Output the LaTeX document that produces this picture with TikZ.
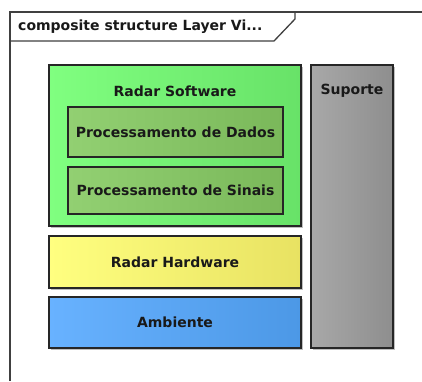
\documentclass[tikz,border=0pt]{standalone}
\usepackage{fontspec}
\setmainfont{DejaVu Sans}
\begin{document}
\begin{tikzpicture}[x=1pt,y=-1pt,
  box/.style={draw=black!85, line width=1.3pt, rectangle, inner sep=0pt},
  lbl/.style={font=\fontsize{14}{16}\selectfont\bfseries, text=black!90, inner sep=0pt},
  ttl/.style={font=\fontsize{14}{16}\selectfont\bfseries, text=black!90, inner sep=0pt, anchor=west}]
\useasboundingbox (0,0) rectangle (422,381);
\fill[white] (0,0) rectangle (422,381);
% frame
\draw[line width=1.6pt, black!75] (10,381) -- (10,12) -- (422,12);
\draw[line width=1.3pt, black!75] (10,41) -- (274,41) -- (295,19) -- (295,12);
\node[ttl] (title) at (18,27) {composite structure Layer Vi...};
% shadows
\foreach \cx/\cy/\w/\h in {175/145.5/252/161, 175/262/252/52, 175/322.5/252/51, 352/206.5/82/283}
  \fill[black!25] (\cx-\w/2+2,\cy-\h/2+2) rectangle (\cx+\w/2+2,\cy+\h/2+2);
% Radar Software
\node[box, minimum width=252pt, minimum height=161pt, left color={rgb,255:red,128;green,255;blue,128}, right color={rgb,255:red,104;green,226;blue,104}] (sw) at (175,145.5) {};
\node[lbl] (swl) at (175,91) {Radar Software};
\node[box, minimum width=215pt, minimum height=50pt, left color={rgb,255:red,146;green,208;blue,114}, right color={rgb,255:red,122;green,184;blue,90}] (dados) at (175.5,132) {};
\node[lbl] at (dados.center) {Processamento de Dados};
\node[box, minimum width=215pt, minimum height=47pt, left color={rgb,255:red,146;green,208;blue,114}, right color={rgb,255:red,122;green,184;blue,90}] (sinais) at (175.5,190.5) {};
\node[lbl] at (sinais.center) {Processamento de Sinais};
% Hardware
\node[box, minimum width=252pt, minimum height=52pt, left color={rgb,255:red,255;green,255;blue,128}, right color={rgb,255:red,232;green,226;blue,98}] (hw) at (175,262) {};
\node[lbl] at (hw.center) {Radar Hardware};
% Ambiente
\node[box, minimum width=252pt, minimum height=51pt, left color={rgb,255:red,104;green,178;blue,255}, right color={rgb,255:red,76;green,152;blue,230}] (amb) at (175,322.5) {};
\node[lbl] at (amb.center) {Ambiente};
% Suporte
\node[box, minimum width=82pt, minimum height=283pt, left color={rgb,255:red,168;green,168;blue,168}, right color={rgb,255:red,142;green,142;blue,142}] (sup) at (352,206.5) {};
\node[lbl] (supl) at (352,91) {Suporte};
\end{tikzpicture}
\end{document}
